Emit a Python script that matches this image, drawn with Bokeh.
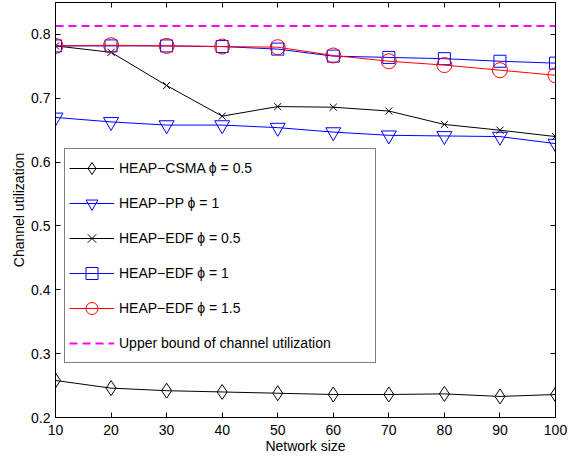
from bokeh.plotting import figure
from bokeh.models import Legend, LegendItem, LinearAxis, FixedTicker, Range1d
from bokeh.embed import file_html
from bokeh.resources import INLINE

network_size = [10, 20, 30, 40, 50, 60, 70, 80, 90, 100]
csma_phi05 = [0.258, 0.246, 0.242, 0.240, 0.238, 0.236, 0.236, 0.237, 0.233, 0.236]
pp_phi1 = [0.670, 0.663, 0.658, 0.658, 0.654, 0.647, 0.642, 0.641, 0.640, 0.629]
edf_phi05 = [0.782, 0.772, 0.720, 0.672, 0.687, 0.686, 0.680, 0.659, 0.650, 0.640]
edf_phi1 = [0.782, 0.782, 0.782, 0.781, 0.777, 0.766, 0.764, 0.762, 0.758, 0.755]
edf_phi15 = [0.782, 0.783, 0.782, 0.781, 0.780, 0.767, 0.758, 0.752, 0.744, 0.736]
upper_bound = 0.813
x_ticks = [10, 20, 30, 40, 50, 60, 70, 80, 90, 100]
y_ticks = [0.2, 0.3, 0.4, 0.5, 0.6, 0.7, 0.8]

FONT = "Liberation Sans"

p = figure(width=574, height=456, output_backend="svg", toolbar_location=None,
           x_range=Range1d(10, 100), y_range=Range1d(0.2, 0.85),
           min_border_left=55, min_border_right=19, min_border_top=2, min_border_bottom=37)
p.background_fill_color = "white"
p.border_fill_color = "white"
p.outline_line_color = "black"
p.outline_line_width = 1
p.xgrid.visible = False
p.ygrid.visible = False

for ax in (p.xaxis[0], p.yaxis[0]):
    ax.major_tick_in = 5
    ax.major_tick_out = 0
    ax.minor_tick_line_color = None
    ax.axis_line_color = "black"
    ax.major_tick_line_color = "black"
    ax.major_label_text_font = FONT
    ax.major_label_text_font_size = "14px"
    ax.major_label_text_color = "black"
    ax.axis_label_text_font = FONT
    ax.axis_label_text_font_size = "14px"
    ax.axis_label_text_font_style = "normal"
    ax.axis_label_text_color = "black"

p.xaxis.ticker = FixedTicker(ticks=x_ticks)
p.yaxis.ticker = FixedTicker(ticks=y_ticks)
p.xaxis.axis_label = "Network size"
p.yaxis.axis_label = "Channel utilization"
p.xaxis.major_label_standoff = 7
p.xaxis.axis_label_standoff = 0
p.yaxis.major_label_standoff = 5
p.yaxis.axis_label_standoff = 1

for loc, ticks in (("above", x_ticks), ("right", y_ticks)):
    ax = LinearAxis(ticker=FixedTicker(ticks=ticks), major_tick_in=5, major_tick_out=0,
                    minor_tick_line_color=None, major_label_text_font_size="1px",
                    major_label_text_color=None, major_label_standoff=0,
                    axis_line_color="black")
    p.add_layout(ax, loc)

def series(y, color, marker, size, dash="solid", lw=1):
    r_line = p.line(network_size, y, line_color=color, line_width=lw, line_dash=dash)
    rs = [r_line]
    if marker:
        r_pt = p.scatter(network_size, y, marker=marker, size=size, line_color=color,
                         fill_color=None, line_width=1)
        rs.append(r_pt)
    return rs

r1 = series(csma_phi05, "black", "diamond", 15)
r2 = series(pp_phi1, "#0000ff", "inverted_triangle", 15)
r3 = series(edf_phi05, "black", "x", 10)
r4 = series(edf_phi1, "#0000ff", "square", 12)
r5 = series(edf_phi15, "#ff0000", "circle", 15)
r6 = series([upper_bound] * len(network_size), "#ff00ff", None, 0, dash="8 5", lw=2)

legend = Legend(items=[
    LegendItem(label="HEAP\u2212CSMA \u03d5 = 0.5", renderers=r1),
    LegendItem(label="HEAP\u2212PP \u03d5 = 1", renderers=r2),
    LegendItem(label="HEAP\u2212EDF \u03d5 = 0.5", renderers=r3),
    LegendItem(label="HEAP\u2212EDF \u03d5 = 1", renderers=r4),
    LegendItem(label="HEAP\u2212EDF \u03d5 = 1.5", renderers=r5),
    LegendItem(label="Upper bound of channel utilization", renderers=r6),
], location=(9, 54), margin=0, padding=4, spacing=5,
   glyph_width=45, glyph_height=30, label_height=30, label_width=252, label_standoff=5,
   label_text_font=FONT, label_text_font_size="14px", label_text_color="black",
   border_line_color="black", border_line_width=1, background_fill_alpha=1.0)
p.add_layout(legend, "center")

open("out.html", "w").write(file_html(p, INLINE))
